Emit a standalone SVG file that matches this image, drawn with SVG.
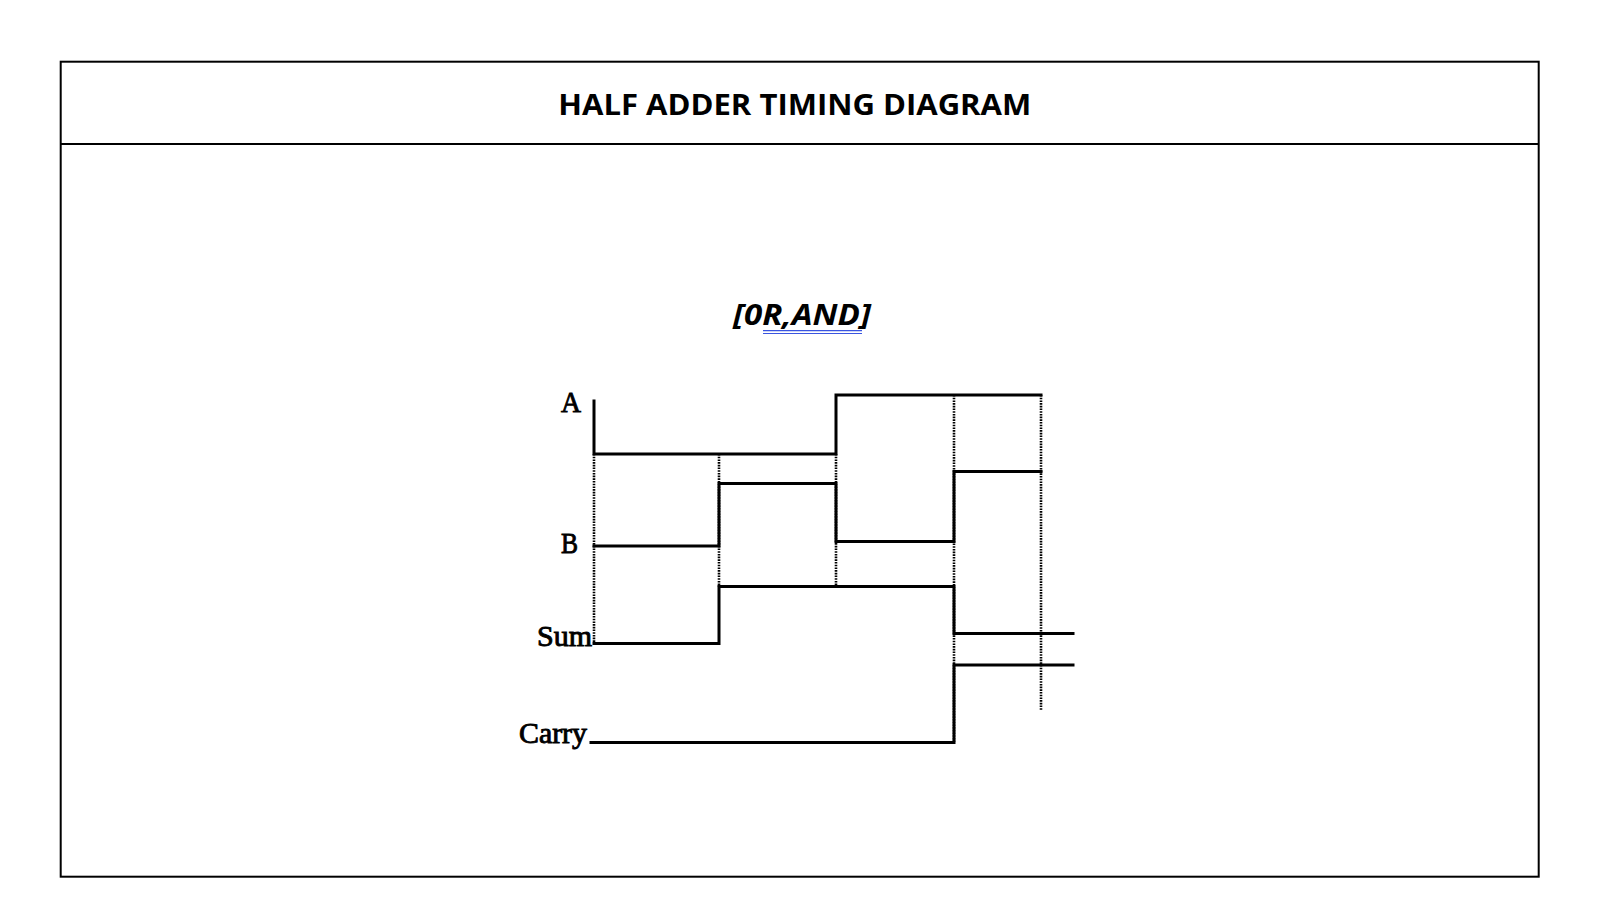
<svg xmlns="http://www.w3.org/2000/svg" width="1616" height="914" viewBox="0 0 1616 914">
<style>
.frame{fill:none;stroke:#000;stroke-width:2}
.sig{fill:none;stroke:#000;stroke-width:3;stroke-linejoin:miter;stroke-linecap:square}
.dot{fill:none;stroke:#000;stroke-width:2.6;stroke-dasharray:1.6 1.1}
.lbl{font-family:"Liberation Serif","Times New Roman",serif;font-size:29px;fill:#000;stroke:#000;stroke-width:0.9}
.title{font-family:"Open Sans","Liberation Sans",sans-serif;font-weight:bold;font-size:29px;fill:#000}
.sub{font-family:"Open Sans","Liberation Sans",sans-serif;font-weight:bold;font-style:italic;font-size:29px;fill:#000}
.ul{stroke:#3a55e0;stroke-width:1.2}
</style>
<rect width="1616" height="914" fill="#fff"/>
<g id="frame">
<rect class="frame" x="60.7" y="61.7" width="1478" height="815"/>
<line class="frame" x1="60.7" y1="144" x2="1538.7" y2="144"/>
</g>
<g id="title">
<text class="title" x="558.3" y="115" textLength="473" lengthAdjust="spacingAndGlyphs">HALF ADDER TIMING DIAGRAM</text>
</g>
<g id="subtitle">
<text class="sub" x="733" y="325" textLength="138" lengthAdjust="spacingAndGlyphs">[0R,AND]</text>
<line class="ul" x1="763" y1="330.7" x2="862" y2="330.7"/>
<line class="ul" x1="763" y1="333.5" x2="862" y2="333.5"/>
</g>
<g id="gridlines">
<line class="dot" x1="594" y1="454" x2="594" y2="643"/>
<line class="dot" x1="719" y1="454" x2="719" y2="587"/>
<line class="dot" x1="836" y1="454" x2="836" y2="586"/>
<line class="dot" x1="954" y1="395" x2="954" y2="742"/>
<line class="dot" x1="1041" y1="395" x2="1041" y2="710"/>
</g>
<g id="signal-A">
<text class="lbl" x="561" y="412" textLength="20" lengthAdjust="spacingAndGlyphs">A</text>
<path class="sig" d="M594,401 V454 H836 V395 H1041"/>
</g>
<g id="signal-B">
<text class="lbl" x="561" y="553" textLength="17" lengthAdjust="spacingAndGlyphs">B</text>
<path class="sig" d="M594,546 H719 V483.5 H836 V541.5 H954 V471.5 H1041"/>
</g>
<g id="signal-Sum">
<text class="lbl" x="537" y="646" textLength="55" lengthAdjust="spacingAndGlyphs">Sum</text>
<path class="sig" d="M594,643.5 H719 V586.5 H954 V633.5 H1073"/>
</g>
<g id="signal-Carry">
<text class="lbl" x="519" y="743" textLength="68" lengthAdjust="spacingAndGlyphs">Carry</text>
<path class="sig" d="M591,742.5 H954 V665 H1073"/>
</g>
</svg>
